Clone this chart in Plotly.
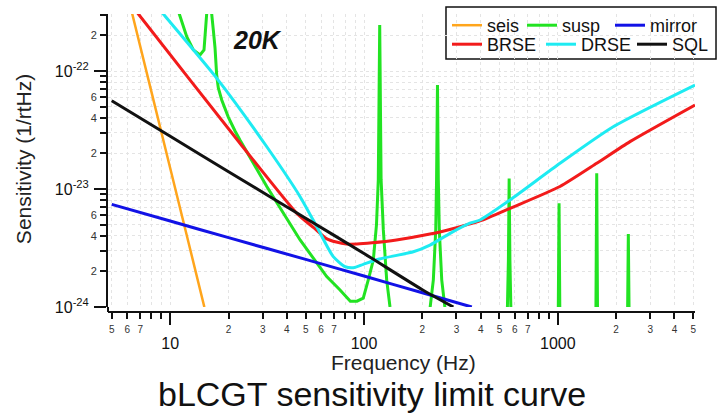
import plotly.graph_objects as go

# ---------------- data ----------------
seis_f = [6.0, 6.37, 8.0, 10.0, 12.0, 15.0]
seis_s = [4.5e-22, 3.04e-22, 6.65e-23, 1.50e-23, 4.45e-24, 1.0e-24]

susp_f = [10.5, 11.14, 12.17, 13.16, 14.25, 14.94, 15.42, 15.85, 16.37, 16.69, 17.03,
          17.38, 17.71, 18.44, 19.94, 21.6, 22.9, 31.5, 46.8, 64.2, 75.0, 85.0, 92.0,
          99.1, 105.2, 111.7, 116.0, 118.5, 120.5, 122.5, 125.8, 130.9, 136.2, 145.0,
          175.0, 212.0, 219.1, 227.9, 234.5, 236.8, 239.4, 241.8, 244.6, 251.8, 261.8,
          290.0, 520.0, 548.0, 556.0, 561.0, 566.0, 574.0, 620.0, 980.0, 1005.0, 1015.0,
          1025.0, 1060.0, 1540.0, 1572.0, 1588.0, 1604.0, 1640.0, 2250.0, 2290.0, 2312.0,
          2334.0, 2380.0]
susp_s = [4.2e-22, 3.04e-22, 1.95e-22, 1.51e-22, 1.37e-22, 1.51e-22, 3.04e-22, 3.0e-21,
          3.04e-22, 2.22e-22, 1.57e-22, 9.07e-23, 7.18e-23, 5.68e-23, 4.07e-23, 3.10e-23,
          2.60e-23, 1.05e-23, 3.70e-24, 1.81e-24, 1.40e-24, 1.12e-24, 1.12e-24, 1.19e-24,
          1.7e-24, 2.5e-24, 5.0e-24, 1.2e-23, 2.45e-22, 1.2e-23, 4.5e-24, 1.7e-24, 1.0e-24,
          6e-25, 3e-25, 6e-25, 9.75e-25, 1.7e-24, 4.5e-24, 1.2e-23, 7.6e-23, 1.2e-23,
          4.5e-24, 1.7e-24, 9.75e-25, 5e-25, 4e-25, 8e-25, 2.5e-24, 1.23e-23, 2.5e-24,
          8e-25, 4e-25, 4e-25, 8e-25, 7.57e-24, 8e-25, 4e-25, 4e-25, 8e-25, 1.36e-23,
          8e-25, 4e-25, 4e-25, 8e-25, 4.16e-24, 8e-25, 4e-25]

mirror_f = [4.99, 10.0, 20.0, 50.0, 100.0, 200.0, 360.0]
mirror_s = [7.40e-24, 5.35e-24, 3.87e-24, 2.53e-24, 1.83e-24, 1.32e-24, 1.0e-24]

brse_f = [6.5, 6.85, 22.9, 45.0, 55.0, 64.0, 72.0, 81.0, 92.0, 110.0, 147.0, 219.0,
          300.0, 397.0, 567.0, 1026.0, 1588.0, 2358.0, 5105.0]
brse_s = [3.4e-22, 3.04e-22, 2.44e-23, 6.22e-24, 4.7e-24, 3.8e-24, 3.55e-24, 3.42e-24,
          3.42e-24, 3.5e-24, 3.7e-24, 4.15e-24, 4.7e-24, 5.36e-24, 6.86e-24, 1.05e-23,
          1.65e-23, 2.52e-23, 5.15e-23]

drse_f = [8.5, 9.21, 17.4, 31.5, 46.8, 57.0, 69.4, 79.8, 88.1, 99.2, 120.0, 179.7,
          219.0, 278.0, 352.0, 397.0, 567.0, 1026.0, 1932.0, 5105.0]
drse_s = [3.56e-22, 3.04e-22, 8.67e-23, 2.28e-23, 8.61e-24, 4.80e-24, 2.67e-24, 2.20e-24,
          2.15e-24, 2.3e-24, 2.55e-24, 2.94e-24, 3.35e-24, 4.21e-24, 5.13e-24, 5.46e-24,
          8.07e-24, 1.65e-23, 3.37e-23, 7.6e-23]

sql_f = [4.99, 10.0, 20.0, 50.0, 100.0, 200.0, 289.0]
sql_s = [5.6e-23, 2.8e-23, 1.4e-23, 5.66e-24, 2.84e-24, 1.40e-24, 1.0e-24]

# tick labels
x_decade_vals = [10, 100, 1000]
x_decade_text = ["10", "100", "1000"]
x_digit_vals = [5, 6, 7, 8, 9, 20, 30, 40, 50, 60, 70, 80, 90,
                200, 300, 400, 500, 600, 700, 800, 900, 2000, 3000, 4000, 5000]
x_digit_text = ["5", "6", "7", " ", " ", "2", "3", "4", "5", "6", "7", " ", " ",
                "2", "3", "4", "5", "6", "7", " ", " ", "2", "3", "4", "5"]
y_decade_vals = [1e-24, 1e-23, 1e-22]
y_decade_text = ["10<sup>-24</sup>", "10<sup>-23</sup>", "10<sup>-22</sup>"]
y_digit_vals = [2e-24, 3e-24, 4e-24, 5e-24, 6e-24, 7e-24, 8e-24, 9e-24,
                2e-23, 3e-23, 4e-23, 5e-23, 6e-23, 7e-23, 8e-23, 9e-23, 2e-22, 3e-22]
y_digit_text = ["2", " ", "4", " ", "6", " ", " ", " ",
                "2", " ", "4", " ", "6", " ", " ", " ", "2", " "]

FONT = "Liberation Sans, Arial, Helvetica, sans-serif"

series = [
    ("seis", seis_f, seis_s, "#FFA51C", 2.5, "legend", 30, "linear"),
    ("susp", susp_f, susp_s, "#22E322", 3, "legend", 43, "linear"),
    ("mirror", mirror_f, mirror_s, "#1212E6", 3, "legend", 45, "spline"),
    ("BRSE", brse_f, brse_s, "#F21B1B", 3, "legend2", 49, "spline"),
    ("DRSE", drse_f, drse_s, "#1EEBF2", 3, "legend2", 46, "spline"),
    ("SQL", sql_f, sql_s, "#111111", 3, "legend2", 36, "spline"),
]

fig = go.Figure()
for name, f, s, col, w, leg, lw, shape in series:
    fig.add_trace(go.Scatter(
        x=f, y=s, mode="lines", name=name,
        line=dict(color=col, width=w, shape=shape, smoothing=0.6, simplify=False),
        legend=leg, legendwidth=lw, hoverinfo="skip"))

# invisible traces to activate the overlay axes that carry the digit labels
fig.add_trace(go.Scatter(x=[None], y=[None], xaxis="x2", yaxis="y", showlegend=False))
fig.add_trace(go.Scatter(x=[None], y=[None], xaxis="x", yaxis="y2", showlegend=False))

XR = [0.6789, 3.708]
YR = [-24.0, -21.517]
YDOM = [5 / 298, 1]
grid = dict(showgrid=True, gridcolor="#e4e4e4", griddash="dot", gridwidth=1)

fig.update_layout(
    width=719, height=416,
    margin=dict(l=108, r=24, t=14, b=104, autoexpand=False),
    paper_bgcolor="white", plot_bgcolor="white",
    font=dict(family=FONT, color="#111"),
    xaxis=dict(type="log", range=XR, domain=[0, 1], anchor="free", position=0,
               automargin=False,
               tickmode="array", tickvals=x_decade_vals, ticktext=x_decade_text,
               ticks="outside", ticklen=12, tickwidth=1.5, tickcolor="#111",
               showline=True, linecolor="#111", linewidth=2, zeroline=False,
               tickfont=dict(size=16, family=FONT), ticklabelstandoff=5, **grid),
    xaxis2=dict(type="log", range=XR, domain=[0, 1], overlaying="x", anchor="free",
                position=0, side="bottom", automargin=False,
                tickmode="array", tickvals=x_digit_vals, ticktext=x_digit_text,
                ticks="outside", ticklen=6, tickwidth=1.5, tickcolor="#111",
                showline=False, zeroline=False,
                tickfont=dict(size=10, family=FONT, color="#333"), ticklabelstandoff=2, **grid),
    yaxis=dict(type="log", range=YR, domain=YDOM, automargin=False,
               tickmode="array", tickvals=y_decade_vals, ticktext=y_decade_text,
               ticks="outside", ticklen=12, tickwidth=1.5, tickcolor="#111",
               showline=True, linecolor="#111", linewidth=2, zeroline=False,
               tickfont=dict(size=16, family=FONT), ticklabelstandoff=2, **grid),
    yaxis2=dict(type="log", range=YR, domain=YDOM, overlaying="y", side="left",
                automargin=False,
                tickmode="array", tickvals=y_digit_vals, ticktext=y_digit_text,
                ticks="outside", ticklen=7, tickwidth=1.5, tickcolor="#111",
                showline=False, zeroline=False,
                tickfont=dict(size=11, family=FONT, color="#333"), ticklabelstandoff=1, **grid),
    legend=dict(orientation="h", xref="container", yref="container",
                x=447 / 719, xanchor="left", y=1 - 7 / 416, yanchor="top",
                bgcolor="rgba(0,0,0,0)", borderwidth=0, itemwidth=30,
                font=dict(size=18, family=FONT, color="#111")),
    legend2=dict(orientation="h", xref="container", yref="container",
                 x=447 / 719, xanchor="left", y=1 - 26 / 416, yanchor="top",
                 bgcolor="rgba(0,0,0,0)", borderwidth=0, itemwidth=30,
                 font=dict(size=18, family=FONT, color="#111")),
    showlegend=True,
)

# legend frame and the bottom-left axis corner
fig.add_shape(type="rect", xref="paper", yref="paper", x0=0.5758, x1=1.0358,
              y0=0.849, y1=1.0235, line=dict(color="#111", width=1.5),
              fillcolor="white", layer="between")
fig.add_shape(type="line", xref="paper", yref="paper", x0=0, x1=0, y0=0, y1=5 / 298,
              line=dict(color="#111", width=2))

fig.add_annotation(text="<b><i>20K</i></b>", xref="paper", yref="paper", x=0.2555, y=0.9128,
                   xanchor="center", yanchor="middle", showarrow=False,
                   font=dict(size=25, family=FONT, color="#111"))
fig.add_annotation(text="Sensitivity (1/rtHz)", xref="paper", yref="paper",
                   x=-0.1448, y=0.513, xanchor="center", yanchor="middle",
                   textangle=-90, showarrow=False,
                   font=dict(size=21, family=FONT, color="#222"))
fig.add_annotation(text="Frequency (Hz)", xref="paper", yref="paper",
                   x=0.5026, y=-0.168, xanchor="center", yanchor="middle", showarrow=False,
                   font=dict(size=21, family=FONT, color="#222"))
fig.add_annotation(text="bLCGT sensitivity limit curve", xref="paper", yref="paper",
                   x=0.4497, y=-0.275, xanchor="center", yanchor="middle", showarrow=False,
                   font=dict(size=34, family=FONT, color="#111"))

fig.write_html("out.html", config={"displayModeBar": False},
               post_script="document.body.style.margin='0px';")
